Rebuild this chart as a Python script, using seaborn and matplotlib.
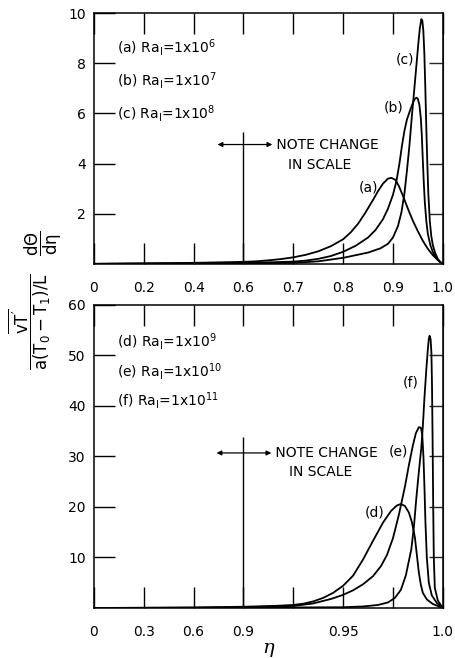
import matplotlib

matplotlib.use("Agg")
import matplotlib.pyplot as plt
import numpy as np
import seaborn as sns

# _______________________________________________________________________________________________________________________
# data (eta, value) per curve

ETA_A = [0.0, 0.1, 0.2, 0.3, 0.4, 0.5, 0.6, 0.625, 0.65, 0.675, 0.7, 0.725, 0.75, 0.775, 0.8, 0.815, 0.83,
         0.845, 0.86, 0.87, 0.88, 0.89, 0.897, 0.905, 0.912, 0.92, 0.93, 0.94, 0.95, 0.96, 0.97, 0.98, 0.99, 1.0]
VAL_A = [0.0, 0.01, 0.02, 0.03, 0.04, 0.06, 0.08, 0.1, 0.14, 0.19, 0.26, 0.36, 0.5, 0.7, 0.98, 1.25, 1.6,
         2.05, 2.55, 2.9, 3.2, 3.4, 3.43, 3.35, 3.1, 2.72, 2.2, 1.72, 1.3, 0.92, 0.6, 0.35, 0.15, 0.0]

ETA_B = [0.0, 0.2, 0.4, 0.6, 0.65, 0.7, 0.725, 0.75, 0.775, 0.8, 0.825, 0.85, 0.865, 0.88, 0.89, 0.9,
         0.907, 0.913, 0.918, 0.923, 0.928, 0.934, 0.94, 0.944, 0.947, 0.95, 0.953, 0.956, 0.958, 0.96,
         0.962, 0.964, 0.967, 0.97, 0.975, 0.98, 0.985, 0.99, 0.995, 1.0]
VAL_B = [0.0, 0.01, 0.02, 0.04, 0.06, 0.09, 0.13, 0.2, 0.31, 0.48, 0.72, 1.05, 1.35, 1.78, 2.2, 2.75,
         3.3, 4.0, 4.7, 5.3, 5.75, 6.1, 6.42, 6.58, 6.63, 6.58, 6.35, 5.8, 5.1, 4.1,
         3.2, 2.45, 1.7, 1.2, 0.75, 0.48, 0.3, 0.16, 0.06, 0.0]

ETA_C = [0.0, 0.2, 0.4, 0.6, 0.7, 0.75, 0.8, 0.85, 0.875, 0.89, 0.9, 0.91, 0.917, 0.923, 0.928, 0.933,
         0.938, 0.943, 0.947, 0.951, 0.954, 0.957, 0.959, 0.961, 0.963, 0.965, 0.967, 0.969, 0.971, 0.974,
         0.977, 0.98, 0.985, 0.99, 0.995, 1.0]
VAL_C = [0.0, 0.005, 0.01, 0.02, 0.04, 0.1, 0.24, 0.45, 0.62, 0.8, 1.05, 1.5, 2.05, 2.8, 3.7, 4.7,
         5.9, 7.0, 7.9, 8.8, 9.4, 9.76, 9.7, 9.3, 8.4, 7.0, 5.4, 4.0, 2.8, 1.7,
         1.1, 0.75, 0.42, 0.2, 0.07, 0.0]

ETA_D = [0.0, 0.3, 0.6, 0.9, 0.915, 0.925, 0.93, 0.935, 0.94, 0.945, 0.95, 0.955, 0.96, 0.965, 0.97,
         0.974, 0.977, 0.979, 0.981, 0.983, 0.9845, 0.986, 0.987, 0.988, 0.989, 0.99, 0.992, 0.995, 1.0]
VAL_D = [0.0, 0.05, 0.1, 0.25, 0.4, 0.6, 0.85, 1.3, 2.0, 3.0, 4.4, 6.4, 9.6, 13.3, 16.9,
         19.2, 20.3, 20.6, 20.2, 18.9, 17.0, 14.0, 10.5, 7.0, 4.6, 3.0, 1.7, 0.8, 0.0]

ETA_E = [0.0, 0.3, 0.6, 0.9, 0.925, 0.935, 0.944, 0.95, 0.955, 0.96, 0.965, 0.969, 0.972, 0.975, 0.978,
         0.981, 0.983, 0.985, 0.9865, 0.988, 0.989, 0.9897, 0.9903, 0.9908, 0.9913, 0.992, 0.993, 0.9945,
         0.997, 1.0]
VAL_E = [0.0, 0.03, 0.06, 0.15, 0.4, 0.9, 1.8, 2.6, 3.5, 4.7, 6.3, 8.3, 10.5, 13.8, 18.5,
         24.0, 28.3, 32.2, 34.6, 35.8, 35.7, 34.3, 30.0, 24.0, 17.0, 10.0, 5.0, 2.5,
         1.0, 0.0]

ETA_F = [0.0, 0.3, 0.6, 0.9, 0.95, 0.96, 0.9675, 0.9725, 0.976, 0.979, 0.9815, 0.9842, 0.9855, 0.9867,
         0.988, 0.9892, 0.99, 0.9908, 0.9917, 0.9925, 0.993, 0.9934, 0.9939, 0.9943, 0.9946, 0.9949,
         0.9952, 0.9955, 0.996, 0.9975, 1.0]
VAL_F = [0.0, 0.01, 0.03, 0.06, 0.15, 0.3, 0.6, 1.1, 2.0, 3.6, 6.5, 11.6, 16.0, 21.6,
         27.0, 31.6, 36.0, 41.6, 47.0, 51.2, 53.3, 53.9, 53.2, 50.5, 44.0, 33.0,
         20.0, 10.0, 4.0, 1.5, 0.0]

TOP_LEGEND = [r"(a) Ra$_{\rm I}$=1x10$^{6}$", r"(b) Ra$_{\rm I}$=1x10$^{7}$", r"(c) Ra$_{\rm I}$=1x10$^{8}$"]
BOTTOM_LEGEND = [r"(d) Ra$_{\rm I}$=1x10$^{9}$", r"(e) Ra$_{\rm I}$=1x10$^{10}$", r"(f) Ra$_{\rm I}$=1x10$^{11}$"]

TOP_XTICKS = [0, 0.2, 0.4, 0.6, 0.7, 0.8, 0.9, 1.0]
TOP_XLABELS = ["0", "0.2", "0.4", "0.6", "0.7", "0.8", "0.9", "1.0"]
BOTTOM_XTICKS = [0, 0.3, 0.6, 0.9, 0.925, 0.95, 0.975, 1.0]
BOTTOM_XLABELS = ["0", "0.3", "0.6", "0.9", "", "0.95", "", "1.0"]

# _______________________________________________________________________________________________________________________


def broken_scale(ax, brk):
    """Piecewise-linear eta axis: 0..brk over 3 units, brk..1 over 4 units."""
    src = [0.0, brk, 1.0]
    dst = [0.0, 3.0, 7.0]
    ax.set_xscale(
        "function",
        functions=(lambda x: np.interp(x, src, dst), lambda p: np.interp(p, dst, src)),
    )


def style_panel(ax, xticks, xlabels, ymax, ystep):
    ax.set_xlim(0, 1.0)
    ax.set_ylim(0, ymax)
    ax.set_xticks(xticks)
    ax.set_xticklabels(xlabels)
    yt = np.arange(ystep, ymax + 0.1, ystep)
    ax.set_yticks(yt)
    ax.set_yticklabels([f"{v:g}" for v in yt])
    ax.tick_params(axis="both", direction="in", length=15, width=1, labelsize=10, pad=6,
                   top=True, right=False, colors="black")
    ax.tick_params(axis="x", pad=12)
    for s in ax.spines.values():
        s.set_linewidth(1.1)
        s.set_color("black")
    ax.set_xlabel("")
    ax.set_ylabel("")
    # short ticks on the right side
    sec = ax.secondary_yaxis("right")
    sec.set_yticks(np.arange(ystep, ymax, ystep))
    sec.tick_params(direction="in", length=10, width=1, labelright=False)


def note_change(ax, brk, x0, x1, y_arrow, y_top, y_text2, x_text2):
    ax.vlines(brk, 0, y_top, color="black", lw=1)
    ax.annotate("", xy=(x0, y_arrow), xytext=(x1, y_arrow),
                arrowprops=dict(arrowstyle="<|-|>", color="black", lw=0.9,
                                mutation_scale=7, shrinkA=0, shrinkB=0))
    ax.text(x1, y_arrow, " NOTE CHANGE", ha="left", va="center", fontsize=10)
    ax.text(x_text2, y_text2, "IN SCALE", ha="left", va="center", fontsize=10)


# _______________________________________________________________________________________________________________________

sns.set_style("ticks")
plt.rcParams["font.family"] = ["DejaVu Sans"]
plt.rcParams["mathtext.default"] = "regular"
plt.rcParams["text.color"] = "black"
plt.rcParams["axes.labelcolor"] = "black"

fig = plt.figure(figsize=(4.56, 6.58), dpi=100)
ax_top = fig.add_axes([0.206, 0.599, 0.765, 0.381])
ax_bot = fig.add_axes([0.206, 0.076, 0.765, 0.4605])

broken_scale(ax_top, 0.6)
broken_scale(ax_bot, 0.9)

for eta, val in [(ETA_A, VAL_A), (ETA_B, VAL_B), (ETA_C, VAL_C)]:
    sns.lineplot(x=eta, y=val, ax=ax_top, color="black", lw=1.3, estimator=None)
for eta, val in [(ETA_D, VAL_D), (ETA_E, VAL_E), (ETA_F, VAL_F)]:
    sns.lineplot(x=eta, y=val, ax=ax_bot, color="black", lw=1.3, estimator=None)

style_panel(ax_top, TOP_XTICKS, TOP_XLABELS, 10, 2)
style_panel(ax_bot, BOTTOM_XTICKS, BOTTOM_XLABELS, 60, 10)

# legends as plain text
for i, t in enumerate(TOP_LEGEND):
    ax_top.text(0.066, 0.865 - i * 0.132, t, transform=ax_top.transAxes, fontsize=10, va="center")
for i, t in enumerate(BOTTOM_LEGEND):
    ax_bot.text(0.066, 0.878 - i * 0.096, t, transform=ax_bot.transAxes, fontsize=10, va="center")

# curve labels
for x, y, t in [(0.870, 3.04, "(a)"), (0.922, 6.24, "(b)"), (0.942, 8.16, "(c)")]:
    ax_top.text(x, y, t, ha="right", va="center", fontsize=10)
for x, y, t in [(0.971, 19.0, "(d)"), (0.9825, 31.0, "(e)"), (0.988, 44.6, "(f)")]:
    ax_bot.text(x, y, t, ha="right", va="center", fontsize=10)

note_change(ax_top, 0.6, 0.496, 0.658, 4.76, 5.24, 3.96, 0.69)
note_change(ax_bot, 0.9, 0.738, 0.914, 30.7, 33.9, 26.9, 0.923)

ax_bot.set_xlabel(r"$\eta$", fontsize=14, family="DejaVu Serif", labelpad=2)
ax_bot.xaxis.label.set_fontstyle("italic")

fig.text(0.096, 0.631, r"$\dfrac{d\Theta}{d\eta}$", rotation=90, fontsize=12, ha="center", va="center")
fig.text(0.066, 0.511, r"$\dfrac{\overline{vT^{\prime}}}{a(T_0 - T_1)/L}$", rotation=90,
         fontsize=12, ha="center", va="center")

fig.savefig("out.png", dpi=100)
